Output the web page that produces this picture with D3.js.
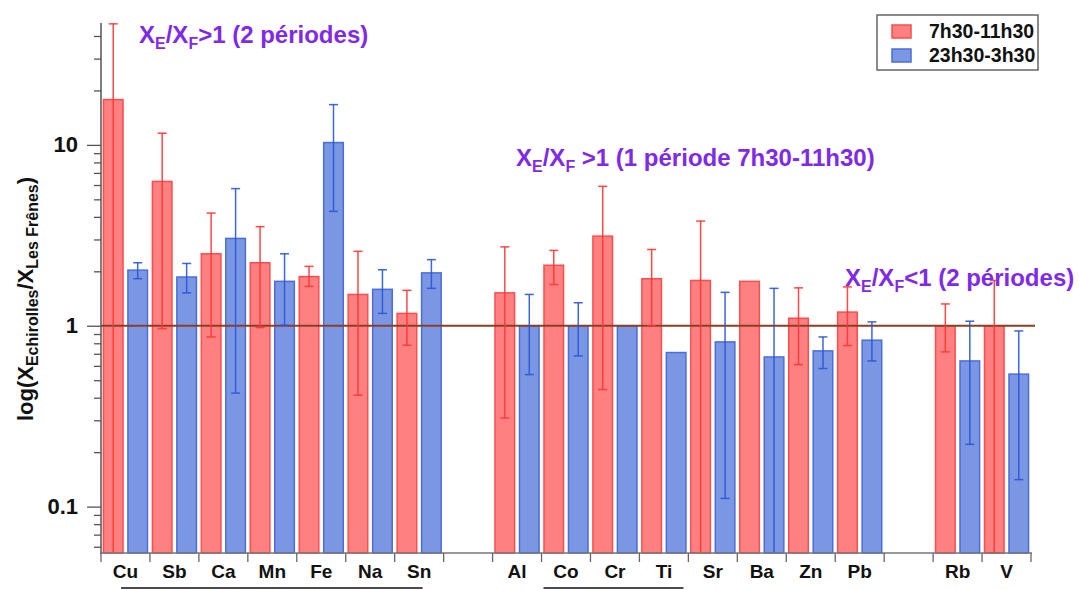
<!DOCTYPE html>
<html><head><meta charset="utf-8">
<script src="https://cdn.jsdelivr.net/npm/d3@7"></script>
<style>
html,body{margin:0;padding:0;background:#fff;}
svg{display:block;font-family:"Liberation Sans",Arial,sans-serif;}
</style></head>
<body>
<svg id="chart" width="1079" height="590"></svg>
<script>
// ---------- DATA ----------
const categories = ["Cu","Sb","Ca","Mn","Fe","Na","Sn","","Al","Co","Cr","Ti","Sr","Ba","Zn","Pb","","Rb","V"];
const seriesNames = ["7h30-11h30","23h30-3h30"];
const morning     = [17.8, 6.28, 2.50, 2.23, 1.87, 1.49, 1.17, null, 1.52, 2.16, 3.13, 1.82, 1.78, 1.76, 1.10, 1.19, null, 1.00, 1.00];
const morningHigh = [46.7, 11.6, 4.20, 3.53, 2.13, 2.58, 1.57, null, 2.73, 2.61, 5.90, 2.64, 3.79, null, 1.62, 1.64, null, 1.32, 1.78];
const morningLow  = [0.04, 0.965,0.867,0.977,1.65, 0.413,0.780,null, 0.309,1.69, 0.444,1.00, 0.04, null, 0.610,0.777,null, 0.717,0.0556];
const night       = [2.03, 1.86, 3.04, 1.76, 10.3, 1.59, 1.96, null, 1.00, 1.00, 1.00, 0.711,0.814,0.672,0.726,0.832,null, 0.639,0.540];
const nightHigh   = [2.23, 2.21, 5.73, 2.50, 16.7, 2.04, 2.32, null, 1.49, 1.34, null, null, 1.53, 1.61, 0.867,1.05, null, 1.06, 0.936];
const nightLow    = [1.82, 1.52, 0.424,1.006,4.29, 1.17, 1.61, null, 0.537,0.681,null, null, 0.111,0.04, 0.580,0.639,null, 0.221,0.141];
const yDomain = [0.0554, 47.2];
const yTickLabels = [0.1, 1, 10];
const referenceValue = 1;
const annotations = [
  {parts:[["X",0],["E",1],["/X",0],["F",1],[">1 (2 périodes)",0]]},
  {parts:[["X",0],["E",1],["/X",0],["F",1],[" >1 (1 période 7h30-11h30)",0]]},
  {parts:[["X",0],["E",1],["/X",0],["F",1],["<1 (2 périodes)",0]]}
];
const underlineGroups = [["Cu","Sn"],["Co","Ti"]];

// ---------- LAYOUT / STYLE ----------
const annotationPos = [[139,43],[516,166],[845,286]];
const underlineOffsets = [[0.41,0.57],[0.04,0.90]];
const colors = {
  redFill:"#ff8080", redStroke:"#ff4d4d", redErr:"#ff3535",
  blueFill:"#7b97e3", blueStroke:"#4a6ddc", blueErr:"#2a55d8",
  purple:"#7f2ae6", ref:"#8a3f22"
};
const svg = d3.select("#chart");
const X0 = 101, X1 = 1031, YB = 553, YT = 23;

const x = d3.scaleBand().domain(d3.range(categories.length)).range([X0, X1]).padding(0);
const bw = x.bandwidth();
const sub = d3.scaleBand().domain([0,1]).range([0, bw]).paddingInner(0.2).paddingOuter(0.1);
const y = d3.scaleLog().domain(yDomain).range([YB, YT]).clamp(true);

// bars
const series = [
  {vals:morning, hi:morningHigh, lo:morningLow, fill:colors.redFill, stroke:colors.redStroke, err:colors.redErr},
  {vals:night, hi:nightHigh, lo:nightLow, fill:colors.blueFill, stroke:colors.blueStroke, err:colors.blueErr}
];
series.forEach((s, si) => {
  const g = svg.append("g");
  const idx = d3.range(categories.length).filter(i => s.vals[i] != null);
  g.selectAll("rect").data(idx).join("rect")
    .attr("x", i => x(i) + sub(si))
    .attr("y", i => y(s.vals[i]))
    .attr("width", sub.bandwidth())
    .attr("height", i => YB - y(s.vals[i]))
    .attr("fill", s.fill)
    .attr("stroke", s.stroke)
    .attr("stroke-width", 1.5);
});
// reference line
svg.append("line")
  .attr("x1", X0).attr("x2", X1 + 4)
  .attr("y1", y(referenceValue)).attr("y2", y(referenceValue))
  .attr("stroke", colors.ref).attr("stroke-width", 2);
// error bars
series.forEach((s, si) => {
  const g = svg.append("g").attr("stroke", s.err).attr("stroke-width", 1.5).attr("stroke-opacity", 0.9);
  const idx = d3.range(categories.length).filter(i => s.hi[i] != null);
  idx.forEach(i => {
    const cx = x(i) + sub(si) + sub.bandwidth() / 2;
    g.append("line").attr("x1", cx).attr("x2", cx).attr("y1", y(s.hi[i])).attr("y2", y(s.lo[i]));
    [s.hi[i], s.lo[i]].forEach(v => {
      if (v >= yDomain[0] && v <= yDomain[1])
        g.append("line").attr("x1", cx - 4.5).attr("x2", cx + 4.5).attr("y1", y(v)).attr("y2", y(v));
    });
  });
});

// y axis
const minor = y.ticks().filter(t => !yTickLabels.some(m => Math.abs(m - t) < 1e-9));
const gMinor = svg.append("g").attr("transform", `translate(${X0},0)`)
  .call(d3.axisLeft(y).tickValues(minor).tickSize(7).tickFormat("").tickSizeOuter(0));
gMinor.select(".domain").remove();
const gMajor = svg.append("g").attr("transform", `translate(${X0},0)`)
  .call(d3.axisLeft(y).tickValues(yTickLabels).tickSize(14).tickPadding(9).tickFormat(d3.format("~g")).tickSizeOuter(0));
gMajor.select(".domain").remove();
svg.selectAll(".tick line").attr("stroke", "#555").attr("stroke-width", 1.3);
gMajor.selectAll("text").attr("font-size", 22).attr("font-weight", "bold")
  .attr("font-family", "Liberation Sans, Arial, sans-serif").attr("fill", "#111");
svg.append("line").attr("x1", X0).attr("x2", X0).attr("y1", YT).attr("y2", YB + 1)
  .attr("stroke", "#555").attr("stroke-width", 1.5);

// x axis
const gx = svg.append("g").attr("transform", `translate(0,${YB})`)
  .call(d3.axisBottom(x).tickSize(0).tickPadding(12).tickFormat(i => categories[i]));
gx.select(".domain").remove();
gx.selectAll("text").attr("font-size", 19).attr("font-weight", "bold")
  .attr("font-family", "Liberation Sans, Arial, sans-serif").attr("fill", "#111");
svg.append("line").attr("x1", X0 - 1).attr("x2", X1 + 1).attr("y1", YB).attr("y2", YB)
  .attr("stroke", "#777").attr("stroke-width", 1.5);
const bounds = d3.range(categories.length).map(i => x(i)).concat([X1]);
svg.append("g").selectAll("line").data(bounds).join("line")
  .attr("x1", d => d).attr("x2", d => d).attr("y1", YB).attr("y2", YB + 9)
  .attr("stroke", "#666").attr("stroke-width", 1.3);
// underlines
underlineGroups.forEach((gp, k) => {
  const a = categories.indexOf(gp[0]), b = categories.indexOf(gp[1]);
  svg.append("line")
    .attr("x1", x(a) + bw * underlineOffsets[k][0]).attr("x2", x(b) + bw * underlineOffsets[k][1])
    .attr("y1", 588).attr("y2", 588).attr("stroke", "#111").attr("stroke-width", 1.5);
});

// y title
const yt = svg.append("text").attr("transform", "translate(33,299) rotate(-90)")
  .attr("text-anchor", "middle").attr("font-weight", "bold").attr("font-size", 22).attr("fill", "#111");
[["log(X",0],["Echirolles",1],["/X",-1],["Les Frênes",1],[")",-1]].forEach(([t, s]) => {
  yt.append("tspan").text(t).attr("font-size", s === 1 ? 16 : 22).attr("dy", s * 5);
});

// annotations
annotations.forEach((a, k) => {
  const t = svg.append("text").attr("x", annotationPos[k][0]).attr("y", annotationPos[k][1])
    .attr("font-weight", "bold").attr("font-size", 24).attr("fill", colors.purple);
  let prev = 0;
  a.parts.forEach(([txt, isSub]) => {
    const dy = (isSub ? 6 : 0) - prev;
    prev = isSub ? 6 : 0;
    t.append("tspan").text(txt).attr("font-size", isSub ? 16 : 24).attr("dy", dy);
  });
});

// legend
const lg = svg.append("g");
lg.append("rect").attr("x", 877).attr("y", 15).attr("width", 161).attr("height", 55)
  .attr("fill", "#fff").attr("stroke", "#666").attr("stroke-width", 1.5);
seriesNames.forEach((n, i) => {
  lg.append("rect").attr("x", 892).attr("y", 25 + i * 24).attr("width", 19).attr("height", 13)
    .attr("fill", series[i].fill).attr("stroke", series[i].stroke).attr("stroke-width", 1.5);
  lg.append("text").attr("x", 929).attr("y", 38 + i * 24).text(n)
    .attr("font-size", 19.5).attr("font-weight", "bold").attr("fill", "#111");
});
</script>
</body></html>
